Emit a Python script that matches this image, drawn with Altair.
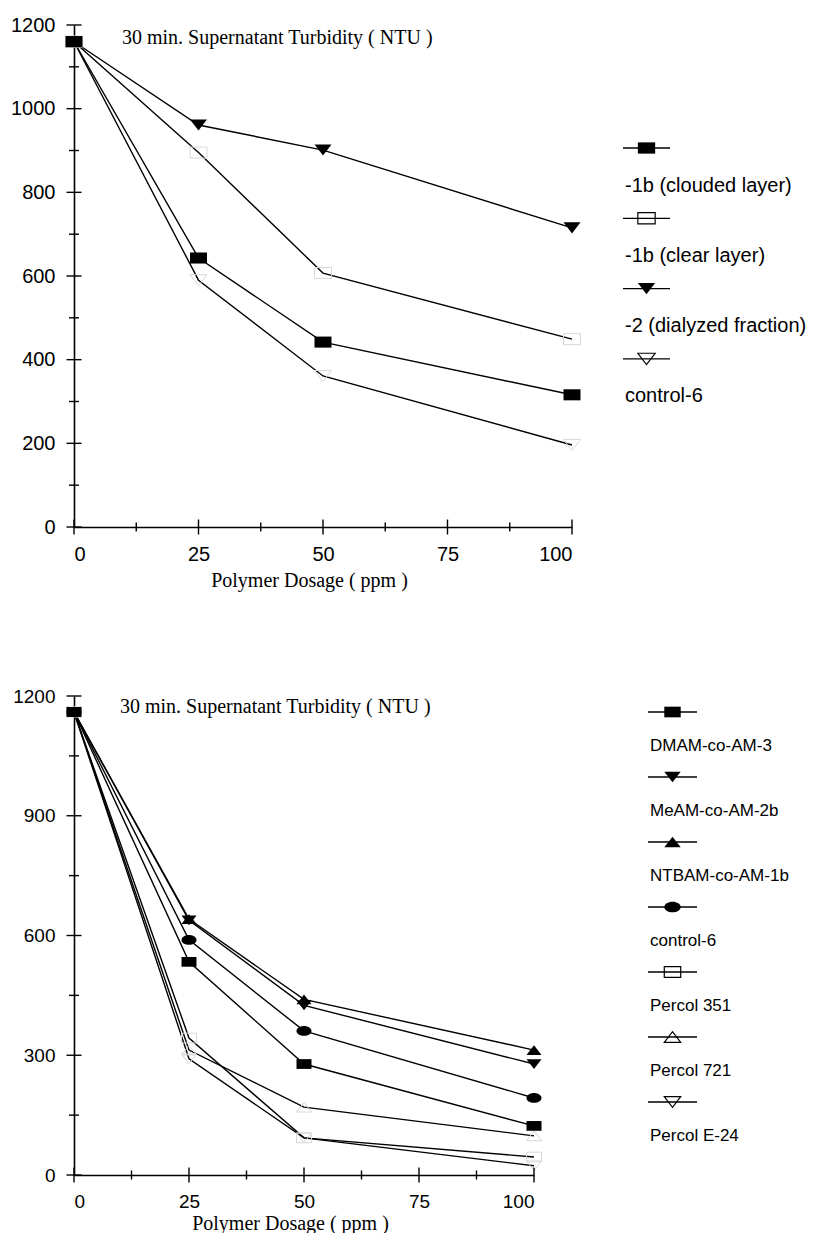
import altair as alt
import pandas as pd

# ---------------- data ----------------
dose = [0, 25, 50, 100]

top_names = ["-1b (clouded layer)", "-1b (clear layer)", "-2 (dialyzed fraction)", "control-6"]
top_clouded = [1160, 643, 442, 316]
top_clear = [1160, 895, 607, 449]
top_dialyzed = [1160, 961, 901, 715]
top_control = [1160, 590, 361, 196]
top_shapes = ["rect", "rect", "tri_down", "tri_down"]
top_filled = [True, False, True, False]

bot_names = ["DMAM-co-AM-3", "MeAM-co-AM-2b", "NTBAM-co-AM-1b", "control-6",
             "Percol 351", "Percol 721", "Percol E-24"]
bot_dmam = [1160, 534, 278, 123]
bot_meam = [1160, 638, 425, 278]
bot_ntbam = [1160, 641, 440, 313]
bot_control = [1160, 589, 361, 193]
bot_p351 = [1160, 343, 93, 45]
bot_p721 = [1160, 313, 170, 98]
bot_pe24 = [1160, 291, 93, 23]
bot_shapes = ["rect", "tri_down", "tri_up", "ellipse", "rect", "tri_up", "tri_down"]
bot_filled = [True, True, True, True, False, False, False]

top_y_major = [0, 200, 400, 600, 800, 1000, 1200]
top_y_minor = [100, 300, 500, 700, 900, 1100]
bot_y_major = [0, 300, 600, 900, 1200]
bot_y_minor = [150, 450, 750, 1050]
x_major = [0, 25, 50, 75, 100]
x_minor = [12.5, 37.5, 62.5, 87.5]

title_text = "30 min. Supernatant Turbidity ( NTU )"
x_title = "Polymer Dosage ( ppm )"

PATHS = {
    "rect": "M-1,-0.65H1V0.65H-1Z",
    "tri_down": "M-1,-0.65H1L0,0.65Z",
    "tri_up": "M-1,0.65H1L0,-0.65Z",
    "ellipse": "M-1,0A1,0.65 0 1,0 1,0A1,0.65 0 1,0 -1,0Z",
}

SANS = "Liberation Sans"
SERIF = "Liberation Serif"


def panel(names, series, shapes, filled, y_major, y_minor, W, H, lab_fs, leg_fs,
          leg_x0, leg_x1, leg_first, leg_step, leg_dy, msize, leg_msize, title_pos,
          title_pad):
    rows = []
    for n, vals in zip(names, series):
        for d, v in zip(dose, vals):
            rows.append({"series": n, "dose": d, "value": v})
    df = pd.DataFrame(rows)
    filled_names = [n for n, f in zip(names, filled) if f]
    open_names = [n for n, f in zip(names, filled) if not f]

    xs = alt.Scale(domain=[0, 100], nice=False)
    ys = alt.Scale(domain=[0, 1200], nice=False)
    shape_scale = alt.Scale(domain=names, range=[PATHS[s] for s in shapes])

    lines = alt.Chart(df).mark_line(color="black", strokeWidth=1.4).encode(
        x=alt.X("dose:Q", scale=xs,
                axis=alt.Axis(values=x_major, format="d", title=x_title, grid=False,
                              ticks=False, tickSize=0,
                              labelFont=SANS, labelFontSize=lab_fs, labelColor="black",
                              labelPadding=17, domainColor="black", domainWidth=1.6,
                              titleFont=SERIF, titleFontSize=20, titleFontWeight="normal",
                              titleColor="black", titlePadding=title_pad, titleX=W / 2 - 14)),
        y=alt.Y("value:Q", scale=ys,
                axis=alt.Axis(values=y_major, format="d", title=None, grid=False,
                              ticks=False, tickSize=0,
                              labelFont=SANS, labelFontSize=lab_fs, labelColor="black",
                              labelPadding=19, domainColor="black", domainWidth=1.6)),
        detail="series:N",
    )
    pts_f = alt.Chart(df).transform_filter(
        alt.FieldOneOfPredicate(field="series", oneOf=filled_names)
    ).mark_point(filled=True, color="black", size=msize, opacity=1).encode(
        x="dose:Q", y="value:Q",
        shape=alt.Shape("series:N", scale=shape_scale, legend=None),
    )
    pts_o = alt.Chart(df).transform_filter(
        alt.FieldOneOfPredicate(field="series", oneOf=open_names)
    ).mark_point(filled=False, color="#d8d8d8", size=msize, strokeWidth=1, opacity=1).encode(
        x="dose:Q", y="value:Q",
        shape=alt.Shape("series:N", scale=shape_scale, legend=None),
    )

    def yticks(vals, size):
        return alt.Chart(pd.DataFrame({"v": vals})).mark_tick(
            orient="horizontal", size=size, thickness=1.4, color="black", opacity=1
        ).encode(x=alt.datum(0), y=alt.Y("v:Q", scale=ys))

    def xticks(vals, size):
        return alt.Chart(pd.DataFrame({"v": vals})).mark_tick(
            orient="vertical", size=size, thickness=1.4, color="black", opacity=1
        ).encode(x=alt.X("v:Q", scale=xs), y=alt.datum(0))

    title = alt.Chart(pd.DataFrame({"t": [title_text]})).mark_text(
        align="left", baseline="middle", font=SERIF, fontSize=20, color="black"
    ).encode(x=alt.value(title_pos[0]), y=alt.value(title_pos[1]), text="t:N")

    plot = alt.layer(lines, pts_o, pts_f, yticks(y_major, 15), yticks(y_minor, 10),
                     xticks(x_major, 15), xticks(x_minor, 9), title)

    # custom legend: symbol above its label
    leg_df = pd.DataFrame({"series": names, "idx": list(range(len(names)))})
    d0 = -leg_first / leg_step
    d1 = (H - leg_first) / leg_step
    ly = alt.Scale(domain=[d0, d1], reverse=True, nice=False, zero=False)
    xc = (leg_x0 + leg_x1) / 2
    leg_rule = alt.Chart(leg_df).mark_rule(color="black", strokeWidth=1.3).encode(
        x=alt.value(leg_x0), x2=alt.value(leg_x1),
        y=alt.Y("idx:Q", scale=ly, axis=None))
    leg_pf = alt.Chart(leg_df).transform_filter(
        alt.FieldOneOfPredicate(field="series", oneOf=filled_names)
    ).mark_point(filled=True, color="black", size=leg_msize, opacity=1).encode(
        x=alt.value(xc), y=alt.Y("idx:Q", scale=ly, axis=None),
        shape=alt.Shape("series:N", scale=shape_scale, legend=None))
    leg_po = alt.Chart(leg_df).transform_filter(
        alt.FieldOneOfPredicate(field="series", oneOf=open_names)
    ).mark_point(filled=False, color="black", size=leg_msize, strokeWidth=1.2, opacity=1).encode(
        x=alt.value(xc), y=alt.Y("idx:Q", scale=ly, axis=None),
        shape=alt.Shape("series:N", scale=shape_scale, legend=None))
    leg_txt = alt.Chart(leg_df).mark_text(
        align="left", baseline="middle", dy=leg_dy, font=SANS, fontSize=leg_fs, color="black"
    ).encode(x=alt.value(leg_x0 + 2), y=alt.Y("idx:Q", scale=ly, axis=None), text="series:N")
    legend = alt.layer(leg_rule, leg_pf, leg_po, leg_txt)

    return alt.layer(plot, legend).resolve_scale(y="independent").properties(width=W, height=H)


top = panel(top_names, [top_clouded, top_clear, top_dialyzed, top_control],
            top_shapes, top_filled, top_y_major, top_y_minor,
            W=498, H=502, lab_fs=20, leg_fs=20,
            leg_x0=549, leg_x1=596, leg_first=123, leg_step=70.3, leg_dy=37.5,
            msize=289, leg_msize=300, title_pos=(48, 13), title_pad=6)

bottom = panel(bot_names, [bot_dmam, bot_meam, bot_ntbam, bot_control, bot_p351, bot_p721, bot_pe24],
               bot_shapes, bot_filled, bot_y_major, bot_y_minor,
               W=460, H=479, lab_fs=19, leg_fs=17,
               leg_x0=574, leg_x1=623, leg_first=16, leg_step=65, leg_dy=34,
               msize=225, leg_msize=270, title_pos=(46, 11), title_pad=2)

chart = alt.vconcat(top, bottom, spacing=97).resolve_scale(
    shape="independent"
).properties(
    padding={"left": 10, "top": 15, "right": 0, "bottom": 0}
).configure_view(stroke=None)

chart.save("out.html", embed_options={"renderer": "svg", "actions": False})
